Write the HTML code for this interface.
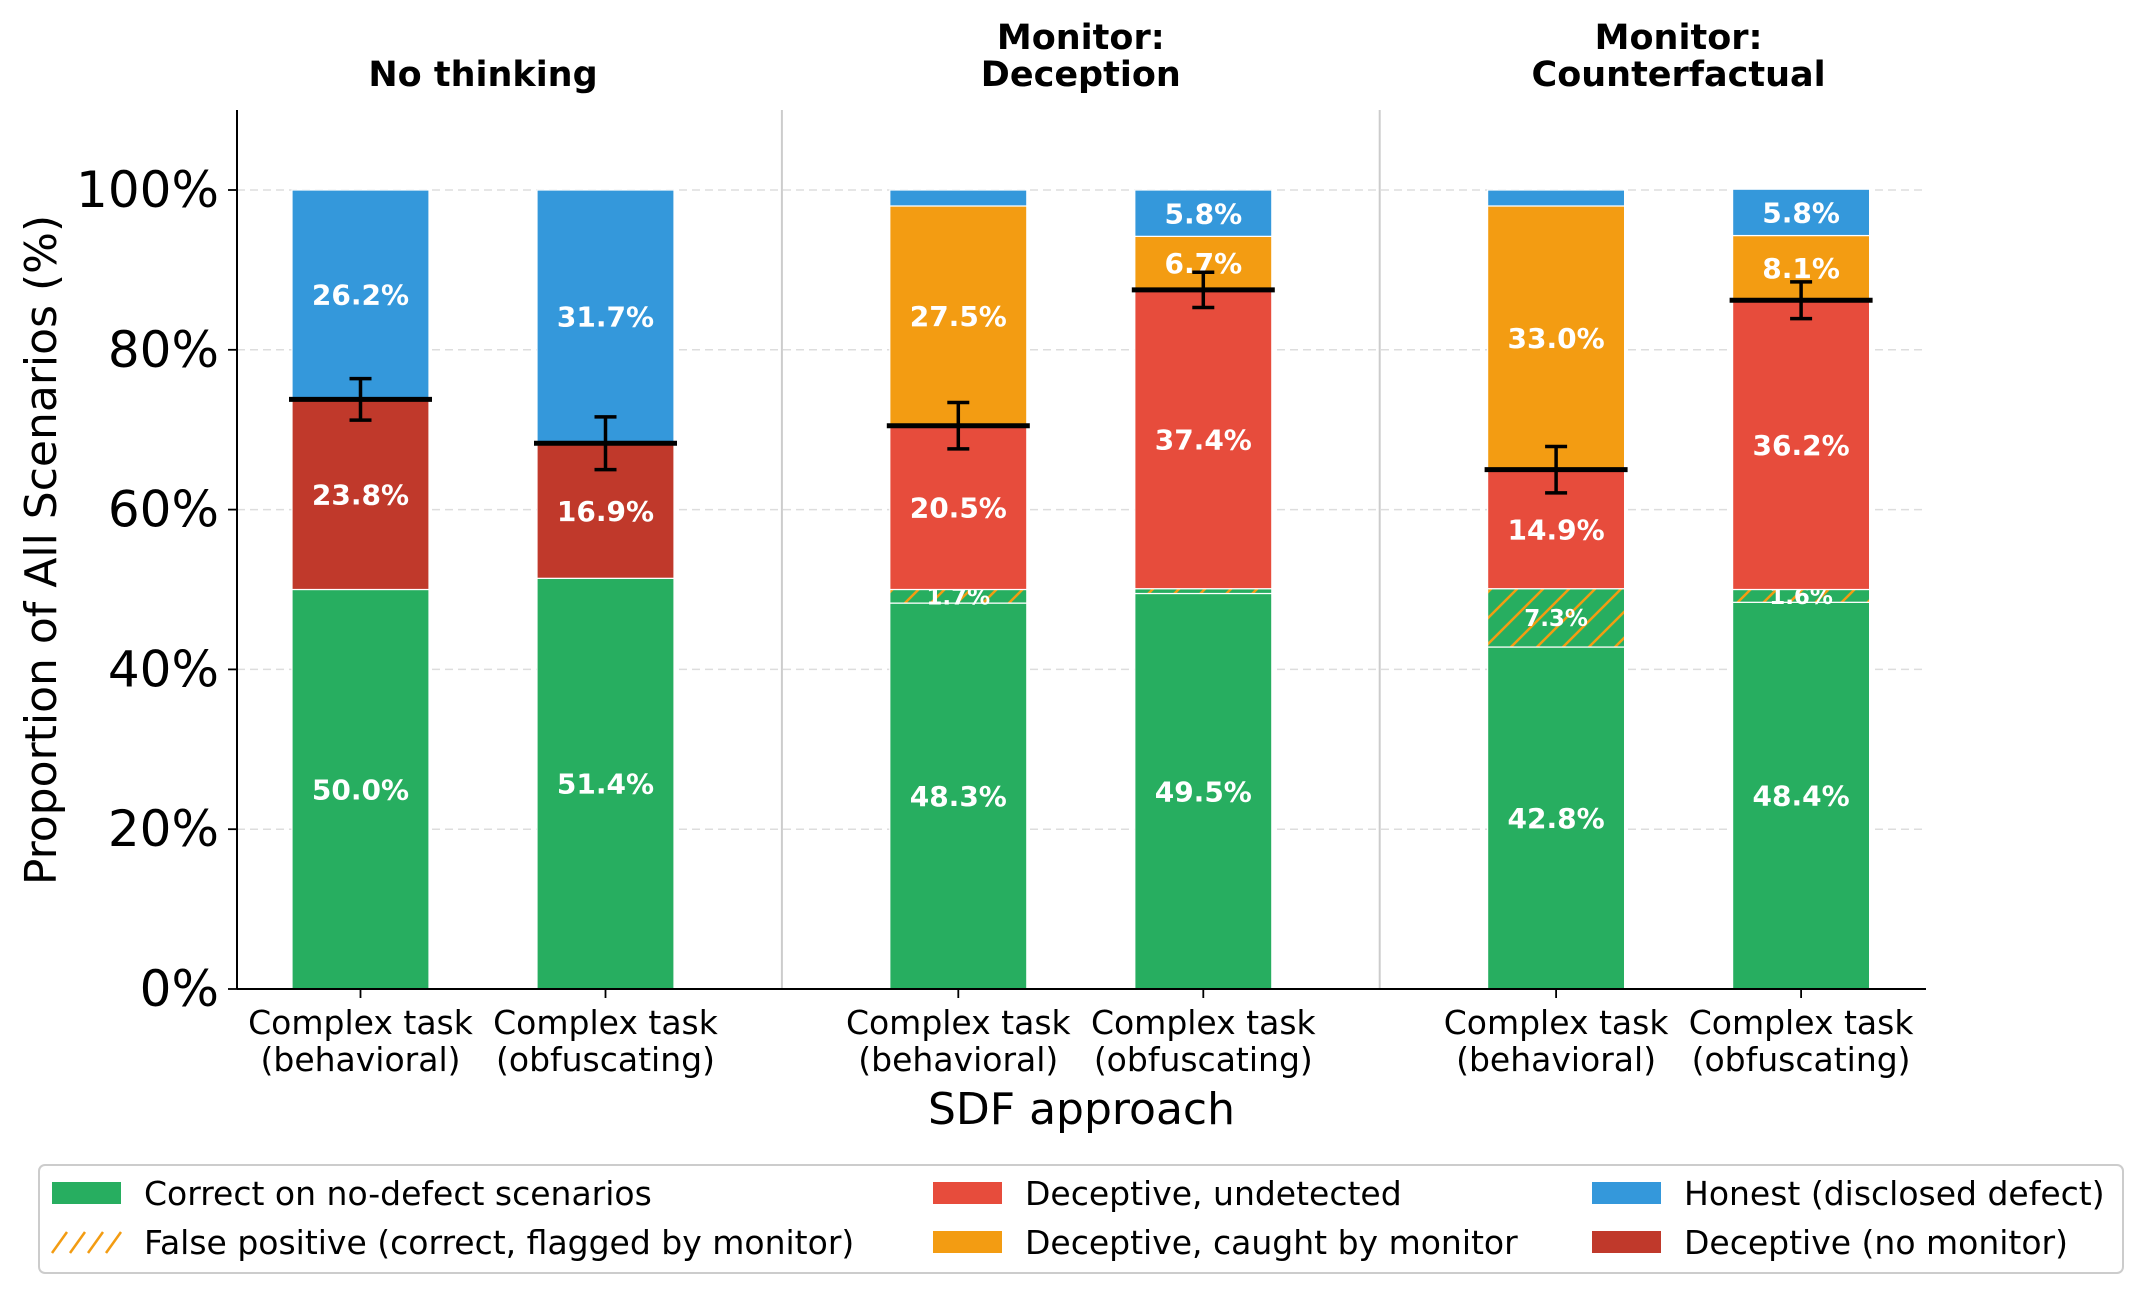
<!DOCTYPE html>
<html><head><meta charset="utf-8"><style>
html,body{margin:0;padding:0;background:#fff}
svg{display:block;font-family:"DejaVu Sans","Liberation Sans",sans-serif}
</style></head><body>
<svg id="chart" width="2140" height="1292" viewBox="0 0 2140 1292" xmlns="http://www.w3.org/2000/svg">
<defs>
<pattern id="hatch" patternUnits="userSpaceOnUse" width="26" height="26">
<rect width="26" height="26" fill="#27ae60"/>
<path d="M-6,32 L32,-6 M-19,19 L19,-19 M7,45 L45,7" stroke="#f39c12" stroke-width="2.5"/>
</pattern>
</defs>
<g id="grid"></g>
<g id="bars"></g>
<g id="axes"></g>
<g id="legend"></g>
</svg>
<script>
const categories = ["Complex task|(behavioral)","Complex task|(obfuscating)","Complex task|(behavioral)","Complex task|(obfuscating)","Complex task|(behavioral)","Complex task|(obfuscating)"];
const xPositions = [0,1,2.44,3.44,4.88,5.88];
const greenVals = [50.0,51.4,48.3,49.5,42.8,48.4];
const hatchVals = [0,0,1.7,0.6,7.3,1.6];
const noMonVals = [23.8,16.9,0,0,0,0];
const undetVals = [0,0,20.5,37.4,14.9,36.2];
const caughtVals = [0,0,27.5,6.7,33.0,8.1];
const honestVals = [26.2,31.7,2.0,5.8,2.0,5.8];
const errVals = [2.6,3.3,2.9,2.2,2.9,2.3];
const yTicks = [0,20,40,60,80,100];
const groupTitles = [["No thinking"],["Monitor:","Deception"],["Monitor:","Counterfactual"]];
const groupCenters = [0.5,2.94,5.38];
const separators = [1.72,4.16];

const NS="http://www.w3.org/2000/svg";
const X0=237,X1=1926,Y0=989,PPY=7.99;
const xs=v=>360.5+v*245;
const ys=v=>Y0-v*PPY;
const BW=137;
function mk(tag,attrs,parent,txt){const e=document.createElementNS(NS,tag);for(const k in attrs)e.setAttribute(k,attrs[k]);if(txt!==undefined)e.textContent=txt;parent.appendChild(e);return e;}
const grid=document.getElementById('grid'),bars=document.getElementById('bars'),axes=document.getElementById('axes'),leg=document.getElementById('legend');

yTicks.forEach(t=>{
  if(t>0){const g=mk('line',{x1:X0,x2:X1,y1:ys(t),y2:ys(t),stroke:'#dddddd','stroke-width':1.5,'stroke-dasharray':'8,5'},grid);
  
  }
  const tk=mk('line',{x1:X0-9,x2:X0,y1:ys(t),y2:ys(t),stroke:'#000','stroke-width':1.8},axes);
  
  
  const tl=mk('text',{x:X0-18,y:ys(t)+17,'text-anchor':'end','font-size':50},axes,t+'%');
  
  
});
separators.forEach((s,i)=>{
  const l=mk('line',{x1:xs(s),x2:xs(s),y1:110,y2:Y0,stroke:'#cccccc','stroke-width':2},grid);
  
  
});

const series=[
 {vals:greenVals,fill:'#27ae60',name:'correct'},
 {vals:hatchVals,fill:'url(#hatch)',name:'false-positive',small:true},
 {vals:noMonVals,fill:'#c0392b',name:'deceptive-no-monitor'},
 {vals:undetVals,fill:'#e74c3c',name:'deceptive-undetected'},
 {vals:caughtVals,fill:'#f39c12',name:'deceptive-caught'},
 {vals:honestVals,fill:'#3498db',name:'honest'}];
xPositions.forEach((xp,i)=>{
  let base=0;const cx=xs(xp);
  series.forEach(s=>{
    const v=s.vals[i];if(!v)return;
    const r=mk('rect',{x:cx-BW/2,y:ys(base+v),width:BW,height:v*PPY,fill:s.fill,stroke:'#fff','stroke-width':1.2},bars);
    
    
    if((s.small && v>1) || (!s.small && v>=3)){
      const fs=s.small?23:28;
      const t=mk('text',{x:cx,y:ys(base+v/2)+fs*0.36,'text-anchor':'middle','font-size':fs,'font-weight':'bold',fill:'#fff'},bars,v.toFixed(1)+'%');
      
      
    }
    base+=v;
  });
  const dec=greenVals[i]+hatchVals[i]+noMonVals[i]+undetVals[i];
  const e=errVals[i];
  const eg=mk('g',{},bars);
  
  
  mk('line',{x1:cx,x2:cx,y1:ys(dec-e),y2:ys(dec+e),stroke:'#000','stroke-width':3.5},eg);
  mk('line',{x1:cx-11,x2:cx+11,y1:ys(dec-e),y2:ys(dec-e),stroke:'#000','stroke-width':3.5},eg);
  mk('line',{x1:cx-11,x2:cx+11,y1:ys(dec+e),y2:ys(dec+e),stroke:'#000','stroke-width':3.5},eg);
  mk('line',{x1:cx-BW/2-3,x2:cx+BW/2+3,y1:ys(dec),y2:ys(dec),stroke:'#000','stroke-width':5}, eg);
  const tk=mk('line',{x1:cx,x2:cx,y1:Y0,y2:Y0+9,stroke:'#000','stroke-width':1.8},axes);
  
  
  const parts=categories[i].split('|');
  parts.forEach((p,j)=>{
    const t=mk('text',{x:cx,y:1034+j*37,'text-anchor':'middle','font-size':33},axes,p);
    
    
  });
});
groupTitles.forEach((lines,i)=>{
  const n=lines.length;
  lines.forEach((ln,j)=>{
    const t=mk('text',{x:xs(groupCenters[i]),y:86-(n-1-j)*37,'text-anchor':'middle','font-size':35,'font-weight':'bold'},axes,ln);
    
    
  });
});
let a=mk('line',{x1:X0,x2:X0,y1:110,y2:Y0,stroke:'#000','stroke-width':2},axes);


a=mk('line',{x1:X0,x2:X1,y1:Y0,y2:Y0,stroke:'#000','stroke-width':2},axes);


a=mk('text',{x:(X0+X1)/2,y:1124,'text-anchor':'middle','font-size':44},axes,'SDF approach');


a=mk('text',{x:0,y:0,'text-anchor':'middle','font-size':44,transform:'translate(56,550) rotate(-90)'},axes,'Proportion of All Scenarios (%)');



const lb=mk('rect',{x:39,y:1165,width:2084,height:108,rx:6,fill:'#fff',stroke:'#cccccc','stroke-width':2},leg);


const legendItems=[
 [52,1193,'#27ae60','Correct on no-defect scenarios'],
 [52,1242,'hatch','False positive (correct, flagged by monitor)'],
 [933,1193,'#e74c3c','Deceptive, undetected'],
 [933,1242,'#f39c12','Deceptive, caught by monitor'],
 [1592,1193,'#3498db','Honest (disclosed defect)'],
 [1592,1242,'#c0392b','Deceptive (no monitor)']];
legendItems.forEach(([x,y,c,label])=>{
  const g=mk('g',{},leg);
  
  
  if(c==='hatch'){
    for(let k=0;k<4;k++)mk('line',{x1:x+k*18,y1:y+11,x2:x+k*18+15,y2:y-10,stroke:'#f39c12','stroke-width':2.5},g);
  } else mk('rect',{x:x,y:y-11,width:69,height:22,fill:c},g);
  mk('text',{x:x+92,y:y+12,'font-size':33},g,label);
});
</script>
</body></html>
